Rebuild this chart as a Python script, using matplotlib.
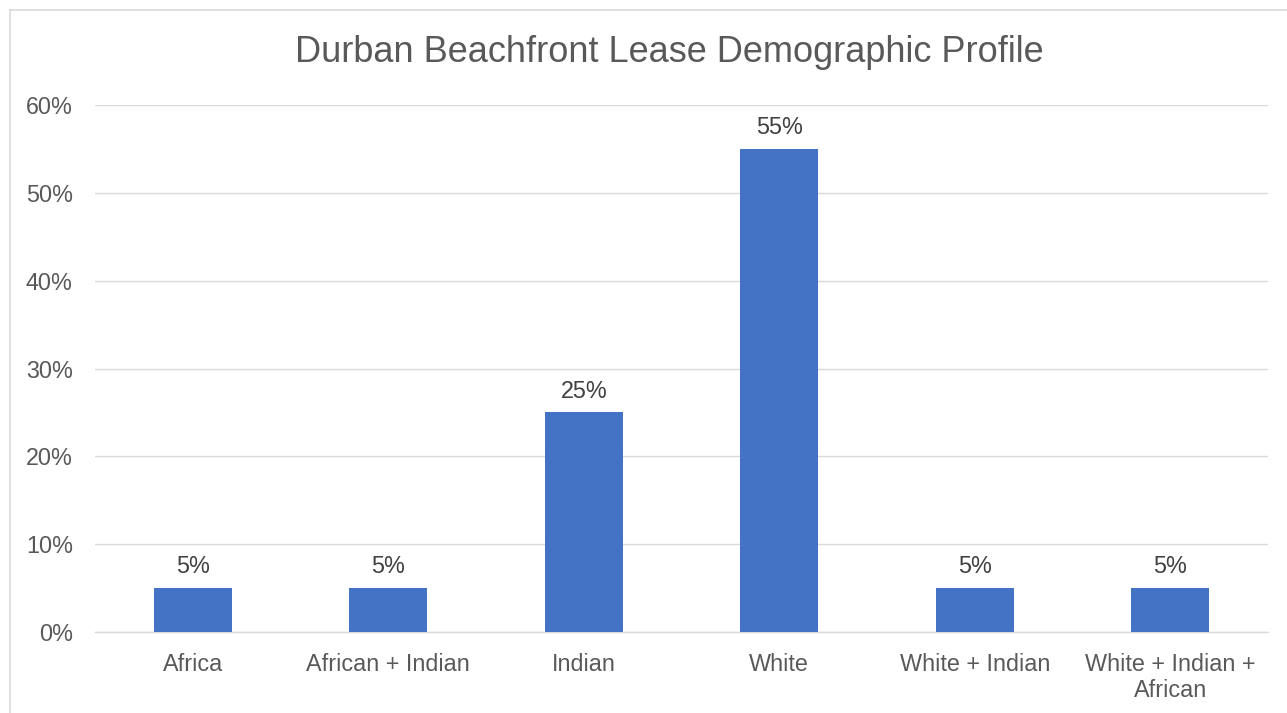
import matplotlib
matplotlib.use("Agg")
import matplotlib.pyplot as plt
from matplotlib.lines import Line2D
from matplotlib.ticker import FuncFormatter

categories = ["Africa", "African + Indian", "Indian", "White", "White + Indian", "White + Indian +\nAfrican"]
values = [0.05, 0.05, 0.25, 0.55, 0.05, 0.05]
yticks = [0, 0.1, 0.2, 0.3, 0.4, 0.5, 0.6]
title = "Durban Beachfront Lease Demographic Profile"

plt.rcParams['font.family'] = ['Liberation Sans', 'DejaVu Sans']

fig = plt.figure(figsize=(12.87, 7.13), dpi=100)
ax = fig.add_axes([95/1287, 1-632/713, (1268-95)/1287, (632-105)/713])

x = list(range(len(categories)))
bars = ax.bar(x, values, width=0.4, color="#4472C4", zorder=3)
for xi, v in zip(x, values):
    ax.annotate(f"{v*100:.0f}%", (xi, v), xytext=(0, 7), textcoords="offset points",
                ha="center", va="bottom", fontsize=16.8, color="#404040")

ax.set_xlim(-0.5, len(categories)-0.5)
ax.set_ylim(0, 0.6)
ax.set_yticks(yticks)
ax.yaxis.set_major_formatter(FuncFormatter(lambda v, p: f"{v*100:.0f}%"))
ax.set_xticks(x)
ax.set_xticklabels(categories, linespacing=1.17)
ax.tick_params(axis='both', length=0, labelsize=16.8, labelcolor="#595959")
ax.tick_params(axis='y', pad=16)
ax.tick_params(axis='x', pad=15)
ax.grid(axis='y', color="#D9D9D9", linewidth=1.0, zorder=0)
for s in ["top", "right", "left"]:
    ax.spines[s].set_visible(False)
ax.spines["bottom"].set_color("#D9D9D9")
ax.spines["bottom"].set_linewidth(1.0)

fig.text(669/1287, 1-52/713, title, ha="center", va="center", fontsize=26, color="#595959")

# chart border (top and left visible)
fig.add_artist(Line2D([9.5/1287, 1], [1-9.5/713, 1-9.5/713], color="#D9D9D9", linewidth=1.2, transform=fig.transFigure))
fig.add_artist(Line2D([9.5/1287, 9.5/1287], [0, 1-9.5/713], color="#D9D9D9", linewidth=1.2, transform=fig.transFigure))

fig.savefig("out.png", dpi=100)
